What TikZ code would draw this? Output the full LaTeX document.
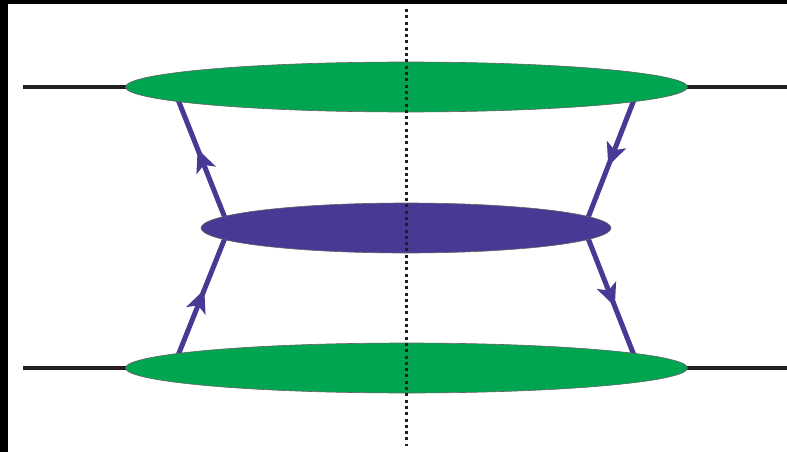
\documentclass[tikz,border=0pt]{standalone}
\usetikzlibrary{shapes.geometric,arrows.meta,decorations.markings}
\definecolor{blobgreen}{RGB}{0,165,81}
\definecolor{blobpurple}{RGB}{72,57,148}
\definecolor{legblack}{RGB}{35,31,32}
\begin{document}
\begin{tikzpicture}[x=1pt,y=-1pt,
  blob/.style={ellipse,draw=legblack!70,line width=0.6pt,inner sep=0pt,minimum height=50pt},
  leg/.style={draw=legblack,line width=4pt},
  fermion/.style={draw=blobpurple,line width=5pt,line join=round,
    postaction={decorate},
    decoration={markings,mark=at position 0.5 with {\fill[blobpurple] (9pt,0pt) -- (-14pt,-10.5pt) -- (-8pt,0pt) -- (-14pt,10.5pt) -- cycle;}}},
  cutline/.style={draw=legblack,line width=3pt,dash pattern=on 3pt off 3.3pt}]
\useasboundingbox (0,0) rectangle (787,452);
\fill[white] (0,0) rectangle (787,452);
\fill[black] (0,0) rectangle (8,452);
\fill[black] (0,0) rectangle (787,4);
% coordinates
\coordinate (lt) at (23,87);
\coordinate (rt) at (787,87);
\coordinate (lb) at (23,368);
\coordinate (rb) at (787,368);
\coordinate (tl) at (173,87);
\coordinate (ml) at (229,228);
\coordinate (bl) at (173,368);
\coordinate (tr) at (639,87);
\coordinate (mr) at (584,228);
\coordinate (br) at (639,368);
\coordinate (cuttop) at (406,9);
\coordinate (cutbot) at (406,446);
% external legs
\draw[leg] (lt) -- (rt);
\draw[leg] (lb) -- (rb);
% fermion lines
\draw[fermion] (bl) -- (ml);
\draw[fermion] (ml) -- (tl);
\draw[fermion] (tr) -- (mr);
\draw[fermion] (mr) -- (br);
% blobs
\node[blob,fill=blobgreen,minimum width=562pt] (top) at (406.5,87) {};
\node[blob,fill=blobgreen,minimum width=562pt] (bot) at (406.5,368) {};
\node[blob,fill=blobpurple,minimum width=410pt] (mid) at (406,228) {};
% cut
\draw[cutline] (cuttop) -- (cutbot);
\end{tikzpicture}
\end{document}
